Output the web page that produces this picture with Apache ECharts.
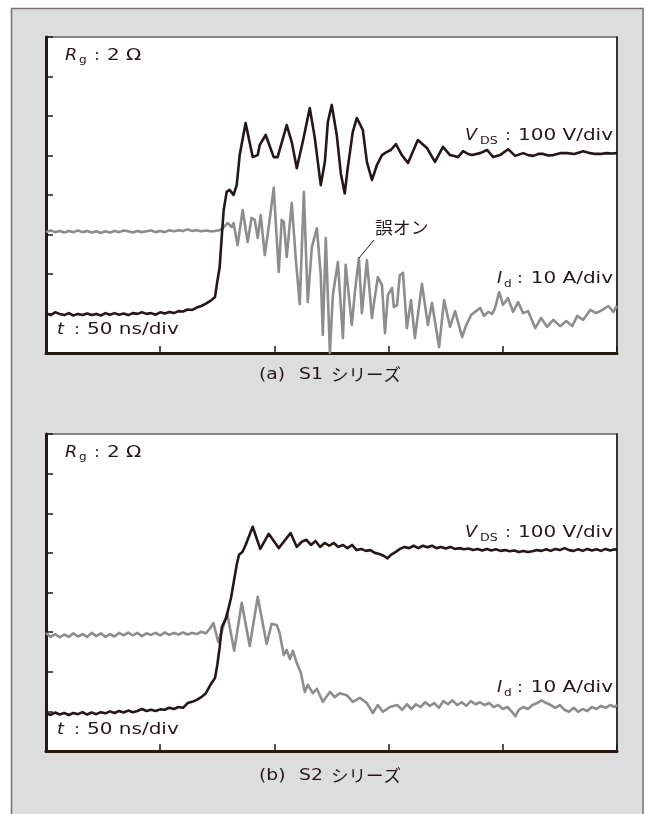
<!DOCTYPE html>
<html>
<head>
<meta charset="utf-8">
<script src="https://cdn.jsdelivr.net/npm/echarts@6/dist/echarts.min.js"></script>
<style>
  html, body { margin: 0; padding: 0; background: #fff; }
  #chart { width: 655px; height: 814px; }
</style>
</head>
<body>
<div id="chart"></div>
<script>
// Switching waveforms of two MOSFET series, time in ns, V_DS in V, I_d in A.
// Scope scale: 50 ns/div, 100 V/div, 10 A/div (V_DS zero on div 1, I_d zero on div 3).

const timeTicks = [0, 50, 100, 150, 200, 250];

// (a) S1 series, V_DS trace [t ns, V]
const s1Vds = [
  [0,1],[2,-4],[4,3],[6,-1],[8,-4],[10,1],[12,-5],[14,-1],[16,-4],[18,0],[20,-4],[22,-1],[24,-5],[26,1],
  [28,-3],[30,1],[32,-3],[34,0],[36,-4],[38,1],[40,-1],[42,3],[44,-1],[46,1],[48,-3],[50,3],[52,0],[54,4],
  [56,1],[58,6],[60,5],[62,10],[64,9],[66,15],[68,19],[70,25],[72,32],[74,42],[75.1,85],[76,115],[77,199],
  [77.8,262],[79.1,308],[80.4,313],[82.1,300],[83.5,325],[84.8,401],[87.4,482],[90.5,396],[92.7,401],
  [93.6,427],[96.2,452],[99.7,396],[101.4,396],[105.4,477],[107.6,434],[109.8,368],[112.4,434],[115.5,520],
  [117.7,444],[120.3,325],[122.1,384],[123.4,485],[125.1,528],[127.3,452],[129.1,354],[130.8,304],[132.1,368],
  [134.3,459],[136.1,495],[138.7,465],[140.5,384],[142.7,338],[144.9,376],[147.1,401],[148.4,406],[149.3,409],
  [151,414],[153.2,429],[155.8,401],[158.5,381],[162.8,439],[166.8,419],[170.3,384],[173.8,422],[176.9,401],
  [180.4,396],[182.6,411],[184.8,404],[186.5,401],[190.1,406],[193.1,414],[195.8,396],[198.8,401],[202.3,416],
  [205.4,399],[208.9,406],[211.1,401],[213.3,399],[215.5,404],[217.7,404],[219.9,400],[222.1,401],[225.1,406],
  [228.2,406],[231.3,404],[235.2,411],[238.3,406],[240.5,404],[242.7,404],[245.3,406],[248,405],[250,406]
];

// (a) S1 series, I_d trace [t ns, A]
const s1Id = [
  [0,0.6],[2,1.0],[4,0.6],[6,0.9],[8,0.5],[10,0.9],[12,0.6],[14,1.0],[16,0.6],[18,0.9],[20,0.5],[22,0.8],
  [24,0.4],[26,0.8],[28,0.5],[30,0.9],[32,0.6],[34,1.0],[36,0.8],[38,0.5],[40,0.9],[42,0.6],[44,0.8],[46,1.0],
  [48,0.6],[50,0.9],[52,0.6],[54,1.1],[56,0.8],[58,1.1],[60,0.9],[62,1.3],[64,0.9],[66,1.1],[68,0.8],[70,1.0],
  [72,0.8],[74,0.9],[76,1.1],[77.4,1.6],[79.5,2.9],[81.3,1.9],[82.1,2.9],[83.9,-2.7],[86.1,6.2],[88.3,-1.9],
  [90,4.2],[91.4,3.7],[92.7,-0.9],[94,4.9],[95.8,-5.2],[97.5,1.9],[99.7,11.8],[101.9,-9.5],[103.2,3.7],
  [104.1,3.2],[105.4,-5.7],[107.6,8.0],[109.3,-5.7],[111.1,-17.6],[112.9,10.8],[114.6,-17.1],[116.4,-3.2],
  [117.2,-3.4],[118.6,1.6],[120.3,-10.3],[121.2,-25.4],[122.5,-0.9],[124.3,-30],[125.6,-15.3],[127.8,-7.0],
  [130,-26.2],[131.2,-7.7],[133.9,-22.9],[135.2,-14.8],[137,-6.0],[138.3,-19.9],[140.5,-6.5],[142.7,-21.1],
  [143.6,-17.3],[145.3,-10.8],[147.1,-12.8],[148.4,-25.0],[149.7,-15.3],[151.5,-13.5],[152.3,-18.4],
  [153.7,-17.9],[154.9,-10.3],[156.3,-9.7],[158,-23.7],[159.8,-16.6],[161.5,-26.2],[164.6,-12.5],[167.2,-22.9],
  [169,-17.3],[172.1,-28.5],[174.3,-16.6],[176.9,-23.4],[179.1,-19.4],[182.2,-26.0],[184,-22.9],[186.1,-20.4],
  [188.3,-19.4],[190.1,-18.6],[191.8,-20.6],[193.6,-19.6],[195.3,-20.1],[196.6,-18.6],[198.4,-14.6],
  [200.1,-17.8],[202.3,-16.1],[204.5,-19.6],[206.7,-17.1],[208.9,-19.9],[211.1,-19.4],[214.2,-23.7],
  [216.8,-21.1],[219.4,-23.4],[222.1,-21.6],[225.1,-23.2],[227.8,-21.9],[230.4,-23.2],[232.6,-20.6],
  [235.2,-21.6],[238.3,-19.1],[240.9,-19.9],[243.6,-19.1],[246.2,-18.1],[248.4,-19.6],[250,-18.1]
];

// (b) S2 series, V_DS trace [t ns, V]
const s2Vds = [
  [0,-4],[2,-9],[4,-3],[6,-8],[8,-4],[10,-9],[12,-4],[14,-7],[16,-2],[18,-8],[20,-3],[22,-7],[24,-2],[26,-5],
  [28,0],[30,-4],[32,1],[34,-3],[36,2],[38,-2],[40,1],[42,6],[44,1],[46,4],[48,1],[50,5],[52,4],[54,9],[56,6],
  [58,11],[60,9],[62,21],[64,24],[66,29],[68,36],[70,46],[72,67],[74,84],[75,117],[76,160],[77,213],[78.9,236],
  [81,286],[83.5,370],[84.5,395],[86,402],[87.4,420],[90.5,466],[93.8,410],[97.5,448],[101.9,412],[107.1,450],
  [109.8,415],[112,428],[114,433],[116,420],[118,430],[120,415],[122,425],[124,418],[126,425],[128,415],
  [130,420],[132,412],[134,420],[136,407],[138,410],[140,405],[142,407],[144,400],[146,397],[148,392],
  [149.5,386],[151,395],[153,402],[155,410],[157,415],[159,412],[161,418],[163,412],[165,418],[167,414],
  [169,418],[171,412],[173,415],[175,411],[177,415],[179,410],[181,412],[183,409],[185,411],[187,407],
  [189,410],[191,406],[193,410],[195,406],[197,409],[199,405],[201,407],[203,404],[205,406],[207,402],
  [209,405],[211,402],[213,404],[215,407],[217,405],[219,409],[221,405],[223,410],[225,407],[227,412],
  [229,407],[231,405],[233,409],[235,405],[237,410],[239,406],[241,409],[243,405],[245,410],[247,406],
  [249,409],[250,407]
];

// (b) S2 series, I_d trace [t ns, A]
const s2Id = [
  [0,-0.2],[2,-1.2],[4,-0.5],[6,-1.3],[8,-0.6],[10,-1.2],[12,-0.3],[14,-1.1],[16,-0.5],[18,-1.2],[20,-0.2],
  [22,-1.0],[24,-0.3],[26,-1.2],[28,-0.5],[30,-1.1],[32,-0.2],[34,-0.8],[36,-0.1],[38,-0.8],[40,-0.2],
  [42,-1.0],[44,-0.3],[46,-0.7],[48,-0.2],[50,-0.8],[52,-0.1],[54,-0.7],[56,-0.2],[58,-0.6],[60,-0.1],
  [62,-0.6],[64,-0.2],[66,-0.5],[68,0.1],[70,-0.3],[72,1.1],[73.3,2.3],[75.4,-2.5],[77.2,0.6],[79.3,4.8],
  [82.4,-4.7],[85.7,7.4],[89.2,-3.5],[92.7,8.9],[96.6,-3.0],[98.8,2.1],[101,1.8],[102.3,-0.2],[104.1,-5.8],
  [105.4,-4.5],[106.8,-6.8],[108.1,-4.7],[109.8,-7.8],[111.6,-10.3],[113.3,-15.1],[114.6,-13.3],[116.8,-15.4],
  [118.6,-14.3],[121.2,-17.6],[124.3,-15.1],[126.4,-16.4],[128.6,-15.4],[131.7,-15.9],[134.3,-17.6],
  [137.4,-16.6],[140.5,-17.9],[143.1,-20.4],[145.3,-18.4],[147.5,-20.1],[150.6,-18.9],[153.7,-18.4],
  [156,-19.6],[158,-18.2],[160,-19.4],[162,-18.2],[164,-18.9],[166,-17.7],[168,-18.6],[170,-17.9],[172,-19.1],
  [174,-17.4],[176,-18.2],[178,-17.2],[180,-18.4],[182,-17.7],[184,-18.6],[186,-17.4],[188,-18.2],[190,-17.7],
  [192,-18.4],[194,-17.9],[196,-18.9],[198,-18.4],[200,-19.4],[202,-18.9],[204,-20.1],[205.5,-21.2],
  [207,-19.6],[209,-18.9],[211,-19.4],[213,-18.4],[215,-17.9],[217,-17.2],[219,-17.9],[221,-18.4],[223,-19.1],
  [225,-18.4],[227,-19.6],[229,-20.1],[231,-19.1],[233,-20.1],[235,-19.4],[237,-19.9],[239,-18.9],[241,-19.4],
  [243,-18.6],[245,-19.1],[247,-18.4],[249,-18.9],[250,-18.4]
];

// Axis ranges: 8 vertical divisions, 5 horizontal divisions
const vdsRange = { min: -100, max: 700, step: 100 };
const idRange = { min: -30, max: 50, step: 10 };

const INK = '#231815';
const GREY = '#8d8d8d';
const LATIN = '"DejaVu Sans", "Noto Sans", sans-serif';
const CJK = '"Noto Sans CJK JP", "Noto Sans", sans-serif';
const WIDE = 1.25; // horizontal stretch for the wide gothic lettering

const chart = echarts.init(document.getElementById('chart'), null, { renderer: 'canvas' });

const grids = [
  { left: 46, top: 37, width: 571, height: 316 },
  { left: 46, top: 434, width: 571, height: 317 }
].map(g => Object.assign({
  show: true, backgroundColor: '#ffffff', borderColor: '#8a8482', borderWidth: 2
}, g));

function timeAxis(gi) {
  return {
    type: 'value', gridIndex: gi,
    min: timeTicks[0], max: timeTicks[timeTicks.length - 1], interval: timeTicks[1] - timeTicks[0],
    axisLine: { show: true, onZero: false, lineStyle: { color: INK, width: 3 } },
    axisTick: { show: true, inside: true, length: 7, lineStyle: { color: INK, width: 1.5 } },
    axisLabel: { show: false }, splitLine: { show: false }
  };
}
function vAxis(gi) {
  return {
    type: 'value', gridIndex: gi, position: 'left',
    min: vdsRange.min, max: vdsRange.max, interval: vdsRange.step,
    axisLine: { show: true, onZero: false, lineStyle: { color: INK, width: 3 } },
    axisTick: { show: true, inside: true, length: 7, lineStyle: { color: INK, width: 1.5 } },
    axisLabel: { show: false }, splitLine: { show: false }
  };
}
function iAxis(gi) {
  return {
    type: 'value', gridIndex: gi, position: 'right',
    min: idRange.min, max: idRange.max, interval: idRange.step,
    axisLine: { show: true, onZero: false, lineStyle: { color: INK, width: 1.5 } },
    axisTick: { show: false }, axisLabel: { show: false }, splitLine: { show: false }
  };
}

function trace(name, data, xi, yi, color) {
  return {
    name, type: 'line', data, xAxisIndex: xi, yAxisIndex: yi,
    showSymbol: false, symbol: 'none', smooth: false,
    lineStyle: { color, width: 2.6, join: 'round' },
    z: color === INK ? 3 : 2
  };
}

// One piece of lettering; opts: size, italic, align, font, stretch
function piece(x, y, text, opts) {
  const o = opts || {};
  return {
    type: 'text', x, y, z: 10,
    scaleX: o.stretch === undefined ? WIDE : o.stretch,
    style: {
      text,
      fontFamily: o.font || LATIN,
      fontSize: o.size || 16,
      fontStyle: o.italic ? 'italic' : 'normal',
      fill: INK,
      align: o.align || 'left',
      verticalAlign: 'middle'
    }
  };
}

function panelLabels(yRg, yVds, yId, yT) {
  return [
    // R_g : 2 Ω
    piece(65, yRg, 'R', { italic: true, stretch: 1.1 }),
    piece(79, yRg + 4, 'g', { size: 11, stretch: 1.1 }),
    piece(97, yRg, ':', { align: 'center', stretch: 1 }),
    piece(107, yRg, '2 Ω'),
    // V_DS : 100 V/div
    piece(465, yVds, 'V', { italic: true, stretch: 1.1 }),
    piece(480, yVds + 5, 'DS', { size: 11, stretch: 1.15 }),
    piece(508, yVds, ':', { align: 'center', stretch: 1 }),
    piece(613, yVds, '100 V/div', { align: 'right' }),
    // I_d : 10 A/div
    piece(497, yId, 'I', { italic: true, stretch: 1.1 }),
    piece(504, yId + 5, 'd', { size: 11, stretch: 1.1 }),
    piece(520, yId, ':', { align: 'center', stretch: 1 }),
    piece(613, yId, '10 A/div', { align: 'right' }),
    // t : 50 ns/div
    piece(57, yT, 't', { italic: true, stretch: 1.1 }),
    piece(77, yT, ':', { align: 'center', stretch: 1 }),
    piece(87, yT, '50 ns/div')
  ];
}

function caption(y, tag, series) {
  return [
    piece(259, y, tag, { size: 15 }),
    piece(299, y, series, { size: 15 }),
    piece(331, y, 'シリーズ', { font: CJK, size: 17, stretch: 1.03 })
  ];
}

const graphics = [
  // grey panel behind both plots
  { type: 'rect', z: -10, shape: { x: 11.5, y: 8.5, width: 631.5, height: 820 },
    style: { fill: '#dcdddd', stroke: '#77716f', lineWidth: 1.5 } },
  ...panelLabels(56, 136, 279, 330),
  ...panelLabels(453, 533, 688, 730),
  // annotation for the false turn-on
  piece(375, 228, '誤オン', { font: CJK, size: 17, stretch: 1.05 }),
  { type: 'line', z: 10, shape: { x1: 374, y1: 240, x2: 359, y2: 258 },
    style: { stroke: INK, lineWidth: 1 } },
  ...caption(375, '(a)', 'S1'),
  ...caption(776, '(b)', 'S2')
];

chart.setOption({
  animation: false,
  backgroundColor: '#ffffff',
  grid: grids,
  xAxis: [timeAxis(0), timeAxis(1)],
  yAxis: [vAxis(0), iAxis(0), vAxis(1), iAxis(1)],
  series: [
    trace('I_d (S1)', s1Id, 0, 1, GREY),
    trace('V_DS (S1)', s1Vds, 0, 0, INK),
    trace('I_d (S2)', s2Id, 1, 3, GREY),
    trace('V_DS (S2)', s2Vds, 1, 2, INK)
  ],
  graphic: graphics
});
</script>
</body>
</html>
